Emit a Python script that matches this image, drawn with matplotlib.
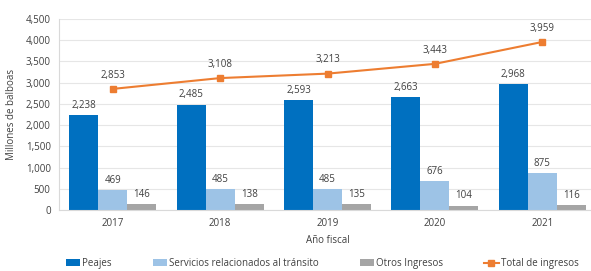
import numpy as np
import matplotlib.pyplot as plt
from matplotlib.ticker import MultipleLocator, FuncFormatter

plt.rcParams['font.family'] = ['Open Sans', 'DejaVu Sans']

years = ['2017', '2018', '2019', '2020', '2021']
peajes = [2238, 2485, 2593, 2663, 2968]
servicios = [469, 485, 485, 676, 875]
otros = [146, 138, 135, 104, 116]
total = [2853, 3108, 3213, 3443, 3959]

cBlue = '#0070C0'
cLight = '#9DC3E6'
cGrey = '#A5A5A5'
cOrange = '#ED7D31'
fs = 7

fig = plt.figure( figsize = ( 5.91, 2.71 ), dpi = 100 )
ax = fig.add_axes( [ 59/591, 61/271, 537/591, 191/271 ] )

x = np.arange( len( years ) )
w = 0.27
b1 = ax.bar( x - w, peajes, w, color = cBlue, label = 'Peajes', zorder = 2 )
b2 = ax.bar( x, servicios, w, color = cLight, label = 'Servicios relacionados al tránsito', zorder = 2 )
b3 = ax.bar( x + w, otros, w, color = cGrey, label = 'Otros Ingresos', zorder = 2 )
ln, = ax.plot( x, total, color = cOrange, lw = 1.5, marker = 's', ms = 4, label = 'Total de ingresos', zorder = 3 )

for bars in ( b1, b2, b3 ):
    for r in bars:
        ax.annotate( '{:,}'.format( int( r.get_height() ) ), xy = ( r.get_x() + r.get_width()/2, r.get_height() ),
                     xytext = ( 0, 3 ), textcoords = 'offset points', ha = 'center', va = 'bottom',
                     fontsize = fs, color = '#404040' )
for xi, t in zip( x, total ):
    ax.annotate( '{:,}'.format( t ), xy = ( xi, t ), xytext = ( 0, 6 ), textcoords = 'offset points',
                 ha = 'center', va = 'bottom', fontsize = fs, color = '#404040' )

ax.set_xlim( -0.5, len( years ) - 0.5 )
ax.set_ylim( 0, 4500 )
ax.yaxis.set_major_locator( MultipleLocator( 500 ) )
ax.yaxis.set_major_formatter( FuncFormatter( lambda v, p: '{:,}'.format( int( v ) ) ) )
ax.set_xticks( x )
ax.set_xticklabels( years )
ax.tick_params( axis = 'both', length = 0, labelsize = fs, colors = '#404040', pad = 6 )
ax.grid( axis = 'y', color = '#E6E6E6', lw = 0.8, zorder = 0 )
for s in ( 'top', 'right' ):
    ax.spines[s].set_visible( False )
ax.spines['left'].set_color( '#D9D9D9' )
ax.spines['bottom'].set_color( '#D9D9D9' )

ax.set_xlabel( 'Año fiscal', fontsize = fs, color = '#404040', labelpad = 4 )
ax.set_ylabel( 'Millones de balboas', fontsize = fs, color = '#404040', labelpad = 6 )

fig.legend( handles = [ b1, b2, b3, ln ], loc = 'lower center', bbox_to_anchor = ( 0.545, -0.025 ), ncol = 4,
            frameon = False, fontsize = fs, handlelength = 1.5, handleheight = 0.7, handletextpad = 0.2,
            columnspacing = 4.2, labelcolor = '#404040' )

fig.savefig( 'out.png', dpi = 100 )
